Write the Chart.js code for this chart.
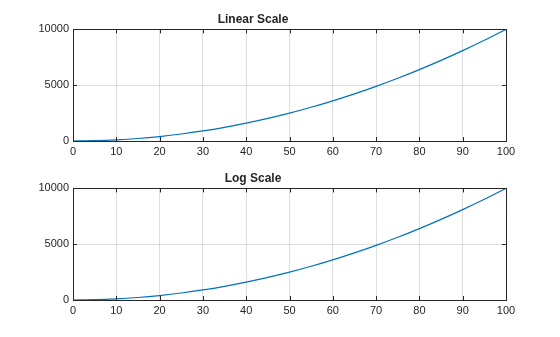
<!DOCTYPE html>
<html>
<head>
<meta charset="utf-8">
<script src="https://cdn.jsdelivr.net/npm/chart.js@4"></script>
<style>
  html, body { margin: 0; padding: 0; background: #fff; }
  #wrap { position: relative; width: 560px; height: 337px; }
  .pane { position: absolute; left: 0; width: 560px; height: 168px; }
  #top-pane { top: 0; }
  #bottom-pane { top: 159px; }
</style>
</head>
<body>
<div id="wrap">
  <div class="pane" id="top-pane"><canvas id="linChart"></canvas></div>
  <div class="pane" id="bottom-pane"><canvas id="logChart"></canvas></div>
</div>
<script>
"use strict";

var xValues = [0, 5, 10, 15, 20, 25, 30, 35, 40, 45, 50, 55, 60, 65, 70, 75, 80, 85, 90, 95, 100];
var yValues = [0, 25, 100, 225, 400, 625, 900, 1225, 1600, 2025, 2500, 3025, 3600, 4225, 4900, 5625, 6400, 7225, 8100, 9025, 10000];
var xTicks = [0, 10, 20, 30, 40, 50, 60, 70, 80, 90, 100];
var yTicks = [0, 5000, 10000];
var titles = ["Linear Scale", "Log Scale"];

var axisColor = "#262626";
var lineColor = "#0072BD";
var gridColor = "rgba(38,38,38,0.15)";
var fontFamily = "'Liberation Sans', Arial, Helvetica, sans-serif";

// box round the plot area plus short inward tick marks on all four sides
var boxPlugin = {
    id: "box",
    afterDraw: function (chart) {
        var ctx = chart.ctx;
        var a = chart.chartArea;
        var xs = chart.scales.x;
        var ys = chart.scales.y;
        var len = 4;
        ctx.save();
        ctx.strokeStyle = axisColor;
        ctx.lineWidth = 1;
        ctx.beginPath();
        xTicks.forEach(function (t) {
            var px = Math.round(xs.getPixelForValue(t)) + 0.5;
            ctx.moveTo(px, a.bottom);
            ctx.lineTo(px, a.bottom - len);
            ctx.moveTo(px, a.top);
            ctx.lineTo(px, a.top + len);
        });
        yTicks.forEach(function (t) {
            var py = Math.round(ys.getPixelForValue(t)) + 0.5;
            ctx.moveTo(a.left, py);
            ctx.lineTo(a.left + len, py);
            ctx.moveTo(a.right, py);
            ctx.lineTo(a.right - len, py);
        });
        ctx.stroke();
        ctx.strokeRect(Math.round(a.left) + 0.5, Math.round(a.top) + 0.5,
            Math.round(a.right - a.left), Math.round(a.bottom - a.top));
        ctx.restore();
    }
};

function plainLabel(v) {
    return String(v);
}

function makeChart(id, title) {
    var points = xValues.map(function (x, i) {
        return { x: x, y: yValues[i] };
    });
    return new Chart(document.getElementById(id).getContext("2d"), {
        type: "line",
        data: {
            datasets: [{
                data: points,
                borderColor: lineColor,
                borderWidth: 1.2,
                pointRadius: 0,
                fill: false,
                cubicInterpolationMode: "monotone"
            }]
        },
        options: {
            responsive: true,
            maintainAspectRatio: false,
            animation: false,
            layout: { padding: { left: 0, right: 54, top: 0, bottom: 0 } },
            plugins: {
                legend: { display: false },
                tooltip: { enabled: false },
                title: {
                    display: true,
                    text: title,
                    color: axisColor,
                    font: { family: fontFamily, size: 12, weight: "bold", lineHeight: 1.2 },
                    padding: { top: 12, bottom: 3 }
                }
            },
            scales: {
                x: {
                    type: "linear",
                    min: 0,
                    max: 100,
                    afterFit: function (s) { s.height = 27; },
                    afterBuildTicks: function (s) {
                        s.ticks = xTicks.map(function (v) { return { value: v }; });
                    },
                    ticks: {
                        color: axisColor,
                        font: { family: fontFamily, size: 11 },
                        padding: 4,
                        maxRotation: 0,
                        autoSkip: false,
                        callback: plainLabel
                    },
                    grid: { color: gridColor, drawTicks: false },
                    border: { display: false }
                },
                y: {
                    type: "linear",
                    min: 0,
                    max: 10000,
                    afterFit: function (s) { s.width = 73; },
                    afterBuildTicks: function (s) {
                        s.ticks = yTicks.map(function (v) { return { value: v }; });
                    },
                    ticks: {
                        color: axisColor,
                        font: { family: fontFamily, size: 11 },
                        padding: 4,
                        callback: plainLabel
                    },
                    grid: { color: gridColor, drawTicks: false },
                    border: { display: false }
                }
            }
        },
        plugins: [boxPlugin]
    });
}

makeChart("linChart", titles[0]);
makeChart("logChart", titles[1]);
</script>
</body>
</html>
